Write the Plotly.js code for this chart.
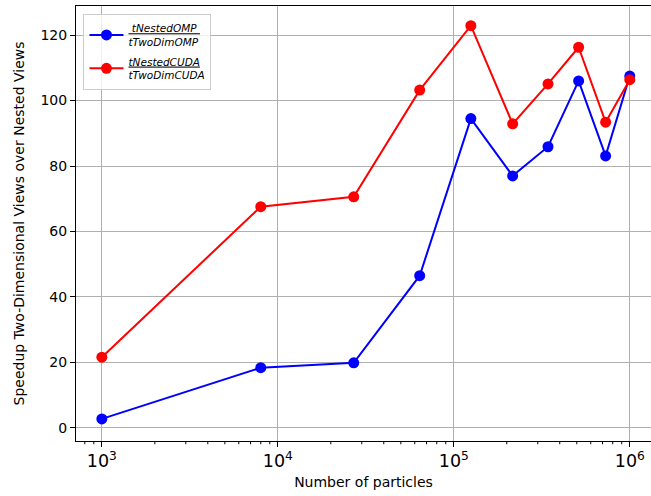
<!DOCTYPE html>
<html>
<head>
<meta charset="utf-8">
<script src="https://cdn.plot.ly/plotly-3.0.1.min.js"></script>
<style>html,body{margin:0;padding:0;background:#fff;}#chart{width:651px;height:496px;}</style>
</head>
<body>
<div id="chart"></div>
<script>
const particles = [1000, 8000, 27000, 64000, 125000, 216000, 343000, 512000, 729000, 1000000];
const speedupOMP = [2.75, 18.4, 19.9, 46.5, 94.5, 77.0, 85.9, 106.0, 83.1, 107.5];
const speedupCUDA = [21.6, 67.6, 70.6, 103.2, 122.9, 92.9, 105.1, 116.3, 93.4, 106.4];
const labelOMP = "<i><u> tNestedOMP </u></i><br><i>tTwoDimOMP</i>";
const labelCUDA = "<i><u>tNestedCUDA</u></i><br><i>tTwoDimCUDA</i>";
const xTitle = "Number of particles";
const yTitle = "Speedup Two-Dimensional Views over Nested Views";
const decades = [100, 1000, 10000, 100000, 1000000];
const minorSteps = [2, 3, 4, 5, 6, 7, 8, 9];

const font = "DejaVu Sans, sans-serif";
const xMin = 713, xMax = 1.32e6;
const xRange = [Math.log10(xMin), Math.log10(xMax)];
const minorTicks = [];
decades.forEach(d => minorSteps.forEach(m => { const v = d * m; if (v > xMin && v < xMax) minorTicks.push(v); }));
// minor tick marks of the log axis (axis decoration, positioned in paper units from the axis range)
const shapes = minorTicks.map(v => {
  const px = (Math.log10(v) - xRange[0]) / (xRange[1] - xRange[0]);
  return {type: "line", xref: "paper", yref: "paper",
    x0: px, x1: px, y0: 0, y1: -0.0075,
    line: {color: "#000", width: 1}, layer: "above"};
});

const traces = [
  {x: particles, y: speedupOMP, name: labelOMP, legendgroup: "a", type: "scatter", mode: "lines+markers",
   line: {color: "#0000ff", width: 2}, marker: {color: "#0000ff", size: 11}},
  {x: particles, y: speedupCUDA, name: labelCUDA, legendgroup: "b", type: "scatter", mode: "lines+markers",
   line: {color: "#ff0000", width: 2}, marker: {color: "#ff0000", size: 11}}
];
const layout = {
  width: 651, height: 496,
  margin: {l: 76, r: 0, t: 6, b: 55},
  paper_bgcolor: "#fff", plot_bgcolor: "#fff",
  font: {family: font, size: 14, color: "#000"},
  showlegend: true,
  legend: {x: 0.013, y: 0.982, xanchor: "left", yanchor: "top",
    bgcolor: "rgba(255,255,255,0.8)", bordercolor: "#cccccc", borderwidth: 1,
    font: {family: font, size: 10.5, color: "#000"}, tracegroupgap: 3,
    itemwidth: 34},
  shapes: shapes,
  xaxis: {type: "log", range: xRange,
    dtick: 1, exponentformat: "power", showexponent: "all",
    showgrid: true, gridcolor: "#b0b0b0", gridwidth: 1,
    showline: true, linecolor: "#000", linewidth: 1, mirror: true,
    ticks: "outside", ticklen: 5, tickwidth: 1, tickcolor: "#000",
    tickfont: {family: font, size: 14},
    zeroline: false,
    title: {text: xTitle, font: {family: font, size: 14}, standoff: 6}},
  yaxis: {range: [-4, 128.9], dtick: 20, tick0: 0,
    showgrid: true, gridcolor: "#b0b0b0", gridwidth: 1,
    showline: true, linecolor: "#000", linewidth: 1, mirror: false,
    ticks: "outside", ticklen: 5, tickwidth: 1, tickcolor: "#000",
    zeroline: false,
    title: {text: yTitle, font: {family: font, size: 14}, standoff: 12}}
};
Plotly.newPlot("chart", traces, layout, {displayModeBar: false, staticPlot: true});
</script>
</body>
</html>
